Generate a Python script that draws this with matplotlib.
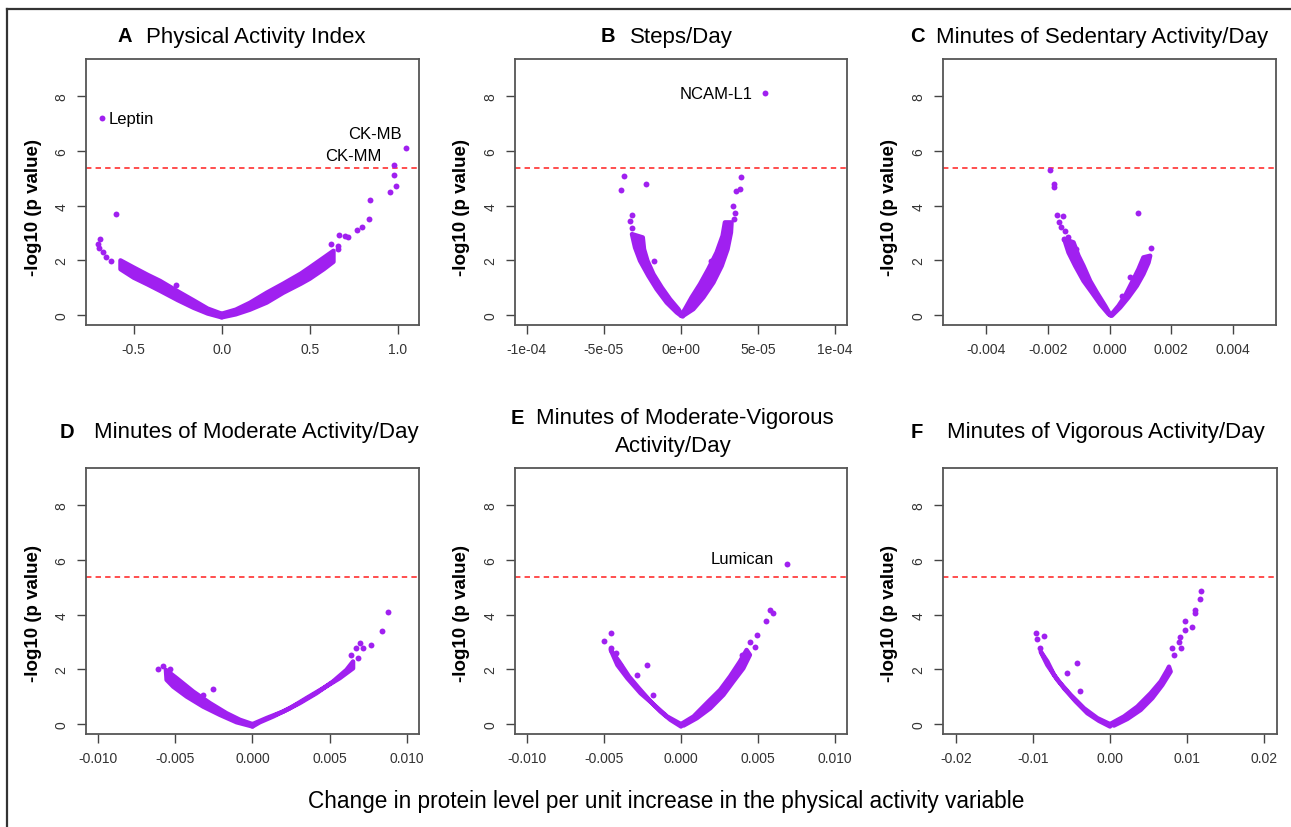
import numpy as np
import matplotlib
matplotlib.use('Agg')
from matplotlib import pyplot as plt
from matplotlib.lines import Line2D

plt.rcParams['font.family'] = ['Liberation Sans', 'DejaVu Sans']
plt.rcParams['axes.unicode_minus'] = False

W, H = 1291, 828
PURPLE = '#A020F0'
THRESH = 5.38

# ---- panel A: Physical Activity Index
A_LEFT_X = [-0.575, -0.50, -0.42, -0.35, -0.25, -0.16, -0.08, 0.0, 0.0, -0.08, -0.16, -0.25, -0.35, -0.42, -0.50, -0.575]
A_LEFT_Y = [2.00, 1.74, 1.47, 1.25, 0.87, 0.54, 0.24, 0.05, -0.08, 0.06, 0.27, 0.55, 0.89, 1.12, 1.37, 1.68]
A_RIGHT_X = [0.0, 0.08, 0.16, 0.256, 0.35, 0.45, 0.50, 0.58, 0.635, 0.635, 0.58, 0.50, 0.45, 0.35, 0.256, 0.16, 0.08, 0.0]
A_RIGHT_Y = [0.05, 0.20, 0.45, 0.82, 1.15, 1.52, 1.74, 2.10, 2.35, 1.95, 1.68, 1.33, 1.15, 0.82, 0.46, 0.20, 0.03, -0.08]
A_PTS_X = [-0.678, 1.049, 0.981, 0.981, 0.989, 0.955, 0.841, 0.835, 0.795, 0.767, 0.72, 0.70, 0.667, 0.663, 0.621, 0.659,
           -0.602, -0.701, -0.691, -0.695, -0.674, -0.655, -0.628, -0.26]
A_PTS_Y = [7.19, 6.09, 5.47, 5.12, 4.72, 4.51, 4.21, 3.50, 3.22, 3.10, 2.86, 2.88, 2.93, 2.53, 2.59, 2.41,
           3.69, 2.59, 2.77, 2.47, 2.29, 2.14, 1.98, 1.09]
A_TICKS = [-0.5, 0.0, 0.5, 1.0]
A_TICKLABELS = ['-0.5', '0.0', '0.5', '1.0']

# ---- panel B: Steps/Day
B_LEFT_X = [-3.18e-5, -2.98e-5, -2.66e-5, -2.12e-5, -1.58e-5, -0.93e-5, -0.28e-5, 0.0,
            0.11e-5, -0.17e-5, -0.71e-5, -1.25e-5, -1.79e-5, -2.18e-5, -2.40e-5, -2.48e-5]
B_LEFT_Y = [2.96, 2.47, 1.99, 1.44, 0.95, 0.46, 0.10, -0.02, -0.05, 0.22, 0.58, 1.01, 1.50, 1.99, 2.41, 2.84]
B_RIGHT_X = [0.15e-5, 0.80e-5, 1.45e-5, 2.10e-5, 2.64e-5, 3.02e-5, 3.24e-5, 3.28e-5,
             2.85e-5, 2.70e-5, 2.31e-5, 1.77e-5, 1.23e-5, 0.69e-5, 0.26e-5, 0.0]
B_RIGHT_Y = [-0.02, 0.22, 0.65, 1.19, 1.80, 2.41, 3.02, 3.39, 3.39, 2.90, 2.29, 1.68, 1.13, 0.65, 0.22, -0.02]
B_PTS_X = [5.44e-5, -3.69e-5, -3.89e-5, -2.25e-5, -3.20e-5, -3.30e-5, -3.15e-5, -1.73e-5,
           3.91e-5, 3.82e-5, 3.56e-5, 3.39e-5, 3.48e-5, 3.43e-5, 1.94e-5, 2.74e-5]
B_PTS_Y = [8.11, 5.09, 4.59, 4.79, 3.67, 3.45, 3.17, 1.99, 5.03, 4.60, 4.52, 3.99, 3.75, 3.51, 1.99, 2.29]
B_TICKS = [-1e-4, -5e-5, 0.0, 5e-5, 1e-4]
B_TICKLABELS = ['-1e-04', '-5e-05', '0e+00', '5e-05', '1e-04']

# ---- panel C: Minutes of Sedentary Activity/Day
C_LEFT_X = [-0.00147, -0.00133, -0.001113, -0.000843, -0.000573, -0.000303, -0.000032,
            0.000043, -0.00014, -0.000411, -0.000627, -0.000843, -0.001005, -0.001167]
C_LEFT_Y = [2.78, 2.29, 1.80, 1.25, 0.83, 0.40, 0.04, -0.02, 0.34, 0.83, 1.25, 1.80, 2.17, 2.66]
C_RIGHT_X = [0.000076, 0.000346, 0.000616, 0.000886, 0.0011, 0.001265, 0.001319,
             0.0011, 0.00094, 0.000724, 0.000508, 0.000292, 0.000043]
C_RIGHT_Y = [-0.02, 0.28, 0.65, 1.07, 1.50, 1.92, 2.17, 2.11, 1.68, 1.19, 0.71, 0.34, 0.0]
C_PTS_X = [-0.001924, -0.001784, -0.001784, -0.001708, -0.001503, -0.001632, -0.001567, -0.001449,
           -0.00147, -0.00133, -0.00108, -0.000627, 0.00094, 0.00134, 0.00067, 0.00042]
C_PTS_Y = [5.31, 4.79, 4.69, 3.67, 3.61, 3.41, 3.23, 3.08, 2.80, 2.84, 2.41, 1.05, 3.75, 2.44, 1.38, 0.71]
C_TICKS = [-0.004, -0.002, 0.0, 0.002, 0.004]
C_TICKLABELS = ['-0.004', '-0.002', '0.000', '0.002', '0.004']

# ---- panel D: Minutes of Moderate Activity/Day
D_LEFT_X = [-0.005616, -0.004924, -0.003844, -0.002765, -0.001685, -0.000821, 0.0,
            0.0, -0.001037, -0.002117, -0.003197, -0.004276, -0.00514, -0.005572]
D_LEFT_Y = [1.98, 1.68, 1.19, 0.77, 0.40, 0.16, 0.0, -0.085, 0.07, 0.34, 0.64, 1.01, 1.37, 1.62]
D_RIGHT_X = [0.0, 0.000907, 0.001987, 0.003067, 0.004147, 0.005227, 0.006091, 0.006523,
             0.006523, 0.005659, 0.004579, 0.003499, 0.002419, 0.001339, 0.000475, 0.0]
D_RIGHT_Y = [0.0, 0.22, 0.46, 0.77, 1.13, 1.56, 1.98, 2.29, 2.04, 1.68, 1.31, 0.95, 0.58, 0.28, 0.07, -0.085]
D_PTS_X = [0.00881, 0.0084, 0.00771, 0.00695, 0.00717, 0.0067, 0.00685, 0.00637,
           -0.00255, -0.00611, -0.00583, -0.00536, -0.00324]
D_PTS_Y = [4.09, 3.40, 2.89, 2.95, 2.77, 2.80, 2.41, 2.53, 1.29, 2.02, 2.14, 2.02, 1.07]
D_TICKS = [-0.010, -0.005, 0.0, 0.005, 0.010]
D_TICKLABELS = ['-0.010', '-0.005', '0.000', '0.005', '0.010']

# ---- panel E: Minutes of Moderate-Vigorous Activity/Day
E_LEFT_X = [-0.004569, -0.004138, -0.003491, -0.002629, -0.001767, -0.000905, 0.0,
            0.0, -0.00069, -0.001336, -0.001983, -0.002737, -0.003384, -0.00403]
E_LEFT_Y = [2.71, 2.16, 1.68, 1.13, 0.71, 0.28, 0.0, -0.085, 0.16, 0.46, 0.83, 1.31, 1.74, 2.29]
E_RIGHT_X = [0.0, 0.000819, 0.001681, 0.002543, 0.00319, 0.003836, 0.004267,
             0.004483, 0.004052, 0.003405, 0.002759, 0.001897, 0.001034, 0.000172]
E_RIGHT_Y = [0.0, 0.28, 0.77, 1.25, 1.74, 2.29, 2.71, 2.53, 2.04, 1.56, 1.07, 0.58, 0.22, -0.05]
E_PTS_X = [0.00692, 0.00578, 0.00599, 0.00552, 0.00496, 0.00448, 0.00481, 0.00416, 0.00394,
           -0.005, -0.00455, -0.00457, -0.00425, -0.00224, -0.00284, -0.00181, -0.00397]
E_PTS_Y = [5.87, 4.17, 4.07, 3.77, 3.26, 3.02, 2.83, 2.47, 2.53,
           3.04, 3.32, 2.77, 2.59, 2.16, 1.80, 1.07, 2.16]
E_TICKS = D_TICKS
E_TICKLABELS = D_TICKLABELS

# ---- panel F: Minutes of Vigorous Activity/Day
F_LEFT_X = [-0.009004, -0.008139, -0.00684, -0.005108, -0.003377, -0.001645, 0.0,
            0.0, -0.001429, -0.002944, -0.004459, -0.005974, -0.007273, -0.008139]
F_LEFT_Y = [2.65, 2.16, 1.62, 1.07, 0.58, 0.22, 0.0, -0.085, 0.12, 0.40, 0.83, 1.31, 1.80, 2.29]
F_RIGHT_X = [0.0, 0.001818, 0.00355, 0.005281, 0.00658, 0.007446, 0.007662,
             0.007879, 0.006797, 0.005498, 0.003983, 0.002251, 0.000519]
F_RIGHT_Y = [0.0, 0.28, 0.64, 1.13, 1.56, 1.98, 2.10, 1.92, 1.43, 0.95, 0.52, 0.19, -0.05]
F_PTS_X = [0.01177, 0.01165, 0.011, 0.011, 0.00974, 0.01061, 0.0097, 0.00909, 0.00896, 0.00918, 0.008, 0.00831,
           -0.00965, -0.00944, -0.00857, -0.00909, -0.00433, -0.0039, -0.00563]
F_PTS_Y = [4.86, 4.56, 4.17, 4.05, 3.77, 3.56, 3.44, 3.20, 3.02, 2.80, 2.77, 2.53,
           3.32, 3.11, 3.23, 2.77, 2.22, 1.22, 1.86]
F_TICKS = [-0.02, -0.01, 0.0, 0.01, 0.02]
F_TICKLABELS = ['-0.02', '-0.01', '0.00', '0.01', '0.02']

Y_TICKS = [0, 2, 4, 6, 8]


def fx(px):
    return px / W


def fy(py):
    return 1 - py / H


fig = plt.figure(figsize=(W / 100, H / 100), dpi=100)


def make_ax(box, xlim):
    l, t, r, b = box
    ax = fig.add_axes([fx(l), fy(b), (r - l) / W, (b - t) / H])
    ax.set_xlim(*xlim)
    ax.set_ylim(-0.36, 9.36)
    for s in ax.spines.values():
        s.set_color('#555555')
        s.set_linewidth(1.3)
    ax.tick_params(direction='out', length=6.5, width=1.0, color='#444444',
                   labelsize=10, labelcolor='#333333', pad=6)
    ax.set_yticks(Y_TICKS)
    ax.set_yticklabels([str(v) for v in Y_TICKS], rotation=90, va='center')
    ax.axhline(THRESH, color='#ff4040', lw=1.3, ls=(0, (3, 2.3)), zorder=1)
    return ax


def volcano(ax, lx, ly, rx, ry, px, py, ticks, ticklabels):
    # dense cloud of proteins drawn as its outline, the edge stroke stands in for the dot radius
    for xs, ys in ((lx, ly), (rx, ry)):
        ax.fill(xs, ys, facecolor=PURPLE, edgecolor=PURPLE, lw=3.2, joinstyle='round', zorder=2)
    ax.scatter(px, py, s=18, color=PURPLE, lw=0, zorder=3)
    ax.set_xticks(ticks)
    ax.set_xticklabels(ticklabels)


axA = make_ax((86, 60, 419, 326), (-0.771, 1.121))
volcano(axA, A_LEFT_X, A_LEFT_Y, A_RIGHT_X, A_RIGHT_Y, A_PTS_X, A_PTS_Y, A_TICKS, A_TICKLABELS)
axA.text(-0.64, 7.19, 'Leptin', fontsize=12, ha='left', va='center')
axA.text(1.024, 6.63, 'CK-MB', fontsize=12, ha='right', va='center')
axA.text(0.909, 5.84, 'CK-MM', fontsize=12, ha='right', va='center')

axB = make_ax((515, 60, 847, 326), (-1.077e-4, 1.077e-4))
volcano(axB, B_LEFT_X, B_LEFT_Y, B_RIGHT_X, B_RIGHT_Y, B_PTS_X, B_PTS_Y, B_TICKS, B_TICKLABELS)
axB.text(0.464e-4, 8.11, 'NCAM-L1', fontsize=12, ha='right', va='center')

axC = make_ax((943, 60, 1276, 326), (-0.0054, 0.0054))
volcano(axC, C_LEFT_X, C_LEFT_Y, C_RIGHT_X, C_RIGHT_Y, C_PTS_X, C_PTS_Y, C_TICKS, C_TICKLABELS)

axD = make_ax((86, 469, 419, 735), (-0.0108, 0.0108))
volcano(axD, D_LEFT_X, D_LEFT_Y, D_RIGHT_X, D_RIGHT_Y, D_PTS_X, D_PTS_Y, D_TICKS, D_TICKLABELS)

axE = make_ax((515, 469, 847, 735), (-0.0108, 0.0108))
volcano(axE, E_LEFT_X, E_LEFT_Y, E_RIGHT_X, E_RIGHT_Y, E_PTS_X, E_PTS_Y, E_TICKS, E_TICKLABELS)
axE.text(0.00606, 6.05, 'Lumican', fontsize=12, ha='right', va='center')

axF = make_ax((943, 469, 1277, 735), (-0.0217, 0.0217))
volcano(axF, F_LEFT_X, F_LEFT_Y, F_RIGHT_X, F_RIGHT_Y, F_PTS_X, F_PTS_Y, F_TICKS, F_TICKLABELS)

# panel titles: bold letter + plain name
titles = [
    ('A', 125, 146, 37, 'Physical Activity Index'),
    ('B', 608, 630, 37, 'Steps/Day'),
    ('C', 917, 936, 37, 'Minutes of Sedentary Activity/Day'),
    ('D', 67, 94, 433, 'Minutes of Moderate Activity/Day'),
    ('E', 517, 536, 419, 'Minutes of Moderate-Vigorous'),
    ('F', 917, 947, 433, 'Minutes of Vigorous Activity/Day'),
]
for letter, lx, tx, ty, name in titles:
    fig.text(fx(lx), fy(ty), letter, fontsize=14.5, fontweight='bold', ha='center', va='center')
    fig.text(fx(tx), fy(ty), name, fontsize=16, ha='left', va='center')
fig.text(fx(673), fy(447), 'Activity/Day', fontsize=16, ha='center', va='center')

# y labels
for yc in (207, 614):
    for xc in (33, 462, 890):
        fig.text(fx(xc), fy(yc), '-log10 (p value)', fontsize=13.5, fontweight='bold',
                 rotation=90, ha='center', va='center')

fig.text(fx(666), fy(802),
         'Change in protein level per unit increase in the physical activity variable',
         fontsize=16.3, ha='center', va='center')

# outer frame (top and left edges visible)
fig.add_artist(Line2D([fx(7), 1.0], [fy(10), fy(10)], color='#333333', lw=1.6))
fig.add_artist(Line2D([fx(7), fx(7)], [fy(10), 0.0], color='#333333', lw=1.6))

fig.savefig('out.png', dpi=100)
